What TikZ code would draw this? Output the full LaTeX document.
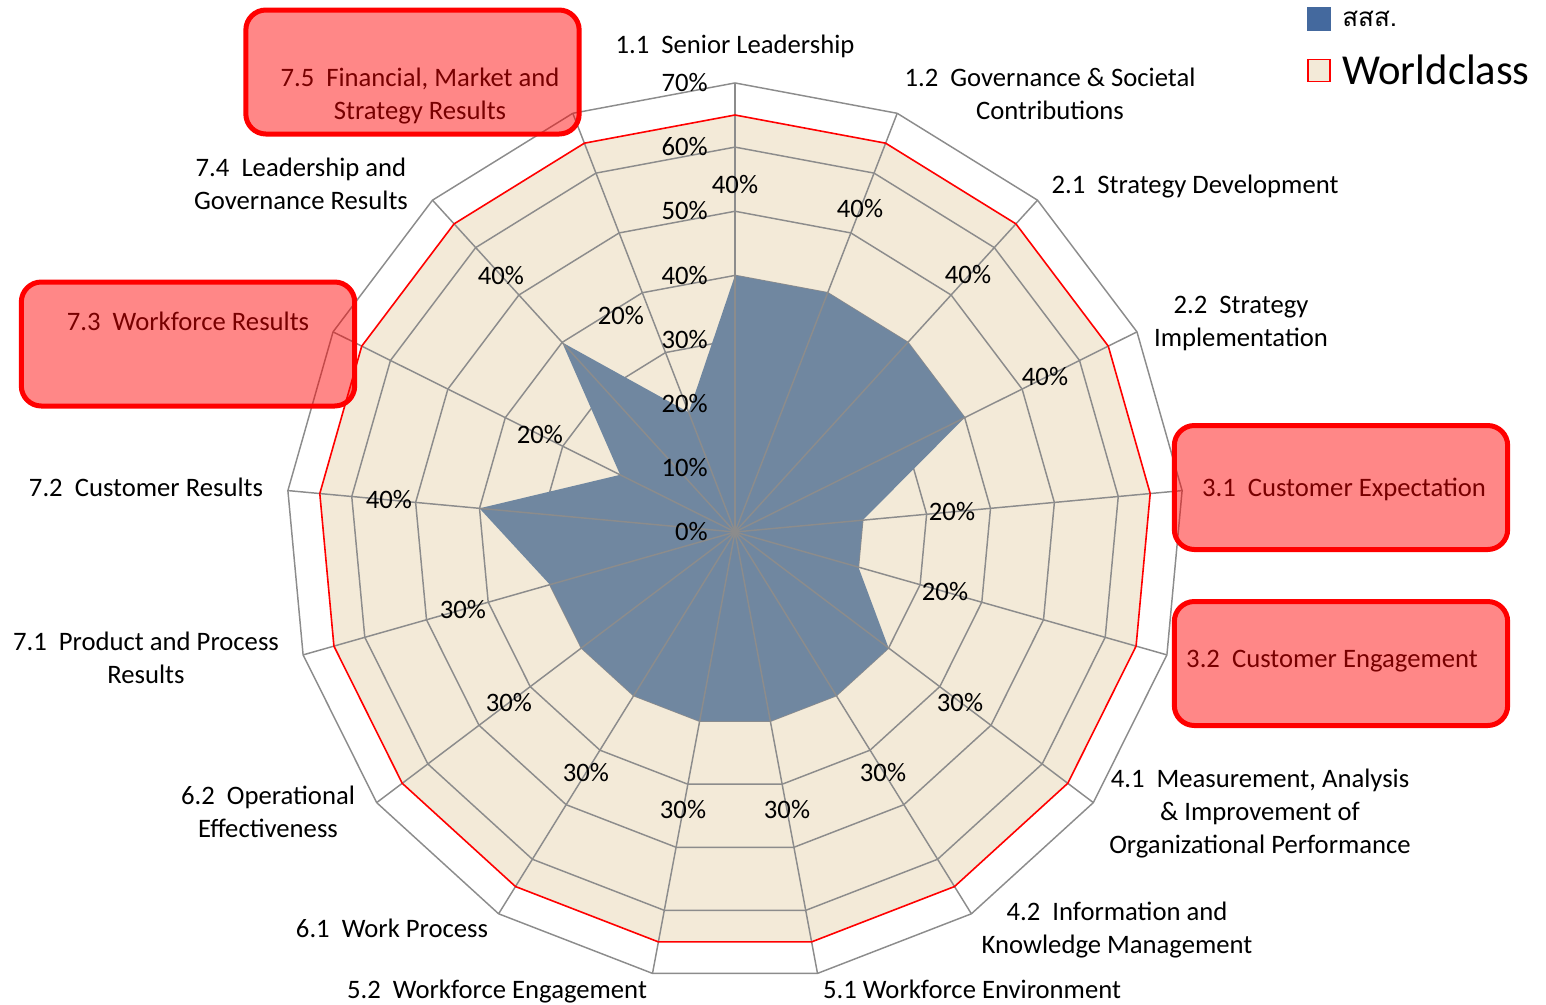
\documentclass[tikz,border=0pt]{standalone}
\usepackage{fontspec}
\setmainfont{Carlito}
\newfontfamily\thaifont[Script=Thai]{Loma}
\usetikzlibrary{calc}
\definecolor{gridgray}{HTML}{8C8C8C}
\definecolor{beige}{HTML}{F3EAD8}
\definecolor{serblue}{HTML}{7087A0}
\definecolor{legblue}{HTML}{44699E}
\tikzset{
  lbl/.style={font=\fontsize{20}{24.75}\selectfont, inner sep=0pt, align=center, text=black,
    text height=12.9pt, text depth=0pt},
  pct/.style={font=\fontsize{20}{24.75}\selectfont, inner sep=0pt, text=black,
    text height=12.9pt, text depth=0pt},
  gridline/.style={draw=gridgray, line width=1.1pt, line join=miter},
  spoke/.style={draw=gridgray, line width=1.1pt},
  hibox/.style={draw=red, line width=3.75pt, fill=red, fill opacity=0.47, rounded corners=15pt,
    inner sep=0pt, minimum width=250pt, minimum height=93pt},
}
\begin{document}
\begin{tikzpicture}[x=0.75pt,y=-0.75pt]
\useasboundingbox (0,0) rectangle (1546,1004);
\coordinate (c) at (735,532);
% outer ring points
\foreach \k in {0,...,16}{
  \coordinate (o\k) at ($(c)+(-90+\k*360/17:449)$);
  \coordinate (r\k) at ($(c)+(-90+\k*360/17:417)$);
}
% beige area inside the Worldclass polygon
\fill[beige] (r0) \foreach \k in {1,...,16}{ -- (r\k)} -- cycle;
% grid rings
\foreach \p in {1,...,7}{
  \draw[gridline] ($(c)+(-90:\p*64.15)$) \foreach \k in {1,...,16}{ -- ($(c)+(-90+\k*360/17:\p*64.15)$)} -- cycle;
}
% data series
\foreach \v [count=\k from 0] in {40,40,40,40,20,20,30,30,30,30,30,30,30,40,20,40,20}{
  \coordinate (d\k) at ($(c)+(-90+\k*360/17:\v*6.415)$);
}
\fill[serblue] (d0) \foreach \k in {1,...,16}{ -- (d\k)} -- cycle;
% spokes
\foreach \k in {0,...,16}{ \draw[spoke] (c) -- (o\k); }
% worldclass outline
\draw[red, line width=1.2pt, line join=miter] (r0) \foreach \k in {1,...,16}{ -- (r\k)} -- cycle;

% scale labels
\foreach \t [count=\p from 0] in {0\%,10\%,20\%,30\%,40\%,50\%,60\%,70\%}{
  \node[pct, anchor=east] (s\p) at (708, 532-\p*64.15) {\t};
}
% data labels
\node[pct] (v1) at (735,185) {40\%};
\node[pct] (v2) at (860,209) {40\%};
\node[pct] (v3) at (968,275) {40\%};
\node[pct] (v4) at (1045,377) {40\%};
\node[pct] (v5) at (952,512) {20\%};
\node[pct] (v6) at (945,592) {20\%};
\node[pct] (v7) at (960,703) {30\%};
\node[pct] (v8) at (883,773) {30\%};
\node[pct] (v9) at (787,810) {30\%};
\node[pct] (v10) at (683,810) {30\%};
\node[pct] (v11) at (586,773) {30\%};
\node[pct] (v12) at (509,703) {30\%};
\node[pct] (v13) at (463,610) {30\%};
\node[pct] (v14) at (389,500) {40\%};
\node[pct] (v15) at (540,435) {20\%};
\node[pct] (v16) at (501,276) {40\%};
\node[pct] (v17) at (621,316) {20\%};

% axis labels (multi-line labels are placed by their last line)
\node[lbl] (a11) at (735,45) {1.1~ Senior Leadership};
\node[lbl] (a12) at (1050,111) {1.2~ Governance \& Societal\\Contributions};
\node[lbl] (a21) at (1195,185) {2.1~ Strategy Development};
\node[lbl] (a22) at (1241,338) {2.2~ Strategy\\Implementation};
\node[lbl] (a31) at (1344,488) {3.1~ Customer Expectation};
\node[lbl] (a32) at (1332,659) {3.2~ Customer Engagement};
\node[lbl] (a41) at (1260,845) {4.1~ Measurement, Analysis\\\& Improvement of\\Organizational Performance};
\node[lbl] (a42) at (1117,945) {4.2~ Information and\\Knowledge Management};
\node[lbl] (a51) at (972,990) {5.1 Workforce Environment};
\node[lbl] (a52) at (497,990) {5.2~ Workforce Engagement};
\node[lbl] (a61) at (392,929) {6.1~ Work Process};
\node[lbl] (a62) at (268,829) {6.2~ Operational\\Effectiveness};
\node[lbl] (a71) at (146,675) {7.1~ Product and Process\\Results};
\node[lbl] (a72) at (146,488) {7.2~ Customer Results};
\node[lbl] (a73) at (188,322) {7.3~ Workforce Results};
\node[lbl] (a74) at (301,201) {7.4~ Leadership and\\Governance Results};
\node[lbl] (a75) at (420,111) {7.5~ Financial, Market and\\Strategy Results};

% highlight boxes
\node[hibox] (b75) at (412.5,72) {};
\node[hibox] (b73) at (188,344) {};
\node[hibox] (b31) at (1341,487.5) {};
\node[hibox] (b32) at (1341,663.5) {};

% legend
\node[fill=legblue, minimum size=17.5pt, inner sep=0pt] (k1) at (1319,19) {};
\node[anchor=west, inner sep=0pt, font=\thaifont\fontsize{19.5}{24}\selectfont] (t1) at (1342,19) {สสส.};
\node[fill=beige, draw=red, line width=1.2pt, minimum size=16.5pt, inner sep=0pt] (k2) at (1319,70.5) {};
\node[anchor=west, inner sep=0pt, font=\fontsize{32}{36}\selectfont] (t2) at (1342,70) {Worldclass};
\end{tikzpicture}
\end{document}
